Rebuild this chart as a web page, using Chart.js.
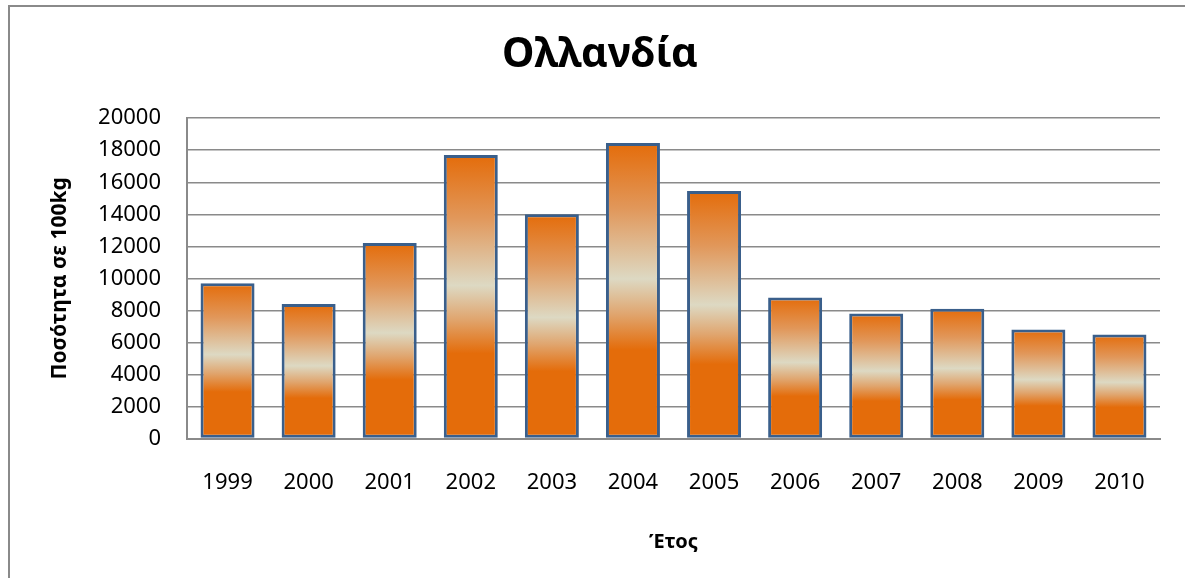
<!DOCTYPE html>
<html>
<head>
<meta charset="utf-8">
<script src="https://cdn.jsdelivr.net/npm/chart.js@4"></script>
<style>
    body { margin: 0; background: #fff; overflow: hidden; }
    .frame-line { position: absolute; background: #8a8a8a; }
    #frame-top { left: 8px; top: 5px; width: 1177px; height: 2px; }
    #frame-left { left: 8px; top: 5px; width: 2px; height: 573px; }
    #chart-container { position: absolute; left: 0; top: 0; width: 1185px; height: 578px; }
</style>
</head>
<body>
<div class="frame-line" id="frame-top"></div>
<div class="frame-line" id="frame-left"></div>
<div id="chart-container"><canvas id="chart"></canvas></div>
<script>
var years = ["1999", "2000", "2001", "2002", "2003", "2004", "2005", "2006", "2007", "2008", "2009", "2010"];
var quantities = [9700, 8400, 12200, 17700, 14000, 18450, 15450, 8800, 7800, 8100, 6800, 6500];
var yTicks = [0, 2000, 4000, 6000, 8000, 10000, 12000, 14000, 16000, 18000, 20000];

var fontName = "'Noto Sans', 'Open Sans', sans-serif";

function barGradient(context) {
    var chart = context.chart;
    if (!chart.chartArea) {
        return "#E46C0A";
    }
    var y = chart.scales.y;
    var top = y.getPixelForValue(context.raw);
    var bottom = y.getPixelForValue(0);
    var g = chart.ctx.createLinearGradient(0, top, 0, bottom);
    g.addColorStop(0, "#E46C0A");
    g.addColorStop(0.22, "#E1975A");
    g.addColorStop(0.46, "#DDD9C3");
    g.addColorStop(0.58, "#E0A56E");
    g.addColorStop(0.7, "#E46C0A");
    g.addColorStop(1, "#E46C0A");
    return g;
}

function drawChart() {
    var ctx = document.getElementById("chart").getContext("2d");

    ctx.chartInstance = new Chart(ctx, {
        type: "bar",
        data: {
            labels: years,
            datasets: [
                {
                    label: "Ολλανδία",
                    data: quantities,
                    backgroundColor: barGradient,
                    borderColor: "#3A5F8B",
                    borderWidth: 3,
                    borderSkipped: false,
                    categoryPercentage: 1,
                    barPercentage: 0.666
                }
            ]
        },
        options: {
            responsive: true,
            maintainAspectRatio: false,
            animation: false,
            layout: {
                padding: { left: 40, right: 25, top: 0, bottom: 0 }
            },
            plugins: {
                legend: { display: false },
                tooltip: { enabled: false },
                title: {
                    display: true,
                    text: "Ολλανδία",
                    color: "#000",
                    font: { family: fontName, size: 41, weight: "bold" },
                    padding: { top: 31, bottom: 38 }
                }
            },
            scales: {
                x: {
                    grid: { display: false, drawTicks: false },
                    border: { display: true, color: "#8a8a8a", width: 2 },
                    ticks: {
                        color: "#000",
                        padding: 31,
                        maxRotation: 0,
                        font: { family: fontName, size: 22 }
                    },
                    title: {
                        display: true,
                        text: "Έτος",
                        color: "#000",
                        font: { family: fontName, size: 20, weight: "bold" },
                        padding: { bottom: 24 }
                    },
                    afterFit: function (scale) {
                        scale.height = 139.5;
                    }
                },
                y: {
                    min: 0,
                    max: 20000,
                    afterBuildTicks: function (scale) {
                        scale.ticks = yTicks.map(function (v) { return { value: v }; });
                    },
                    grid: { color: "#8a8a8a", lineWidth: 1.5, drawTicks: false },
                    border: { display: true, color: "#8a8a8a", width: 2 },
                    ticks: {
                        color: "#000",
                        padding: 26,
                        font: { family: fontName, size: 22 },
                        callback: function (value) {
                            return String(value);
                        }
                    },
                    title: {
                        display: true,
                        text: "Ποσότητα σε 100kg",
                        color: "#000",
                        font: { family: fontName, size: 21, weight: "bold" },
                        padding: { top: 7 }
                    },
                    afterFit: function (scale) {
                        scale.width = 147;
                    }
                }
            }
        }
    });
}

drawChart();
</script>
</body>
</html>
